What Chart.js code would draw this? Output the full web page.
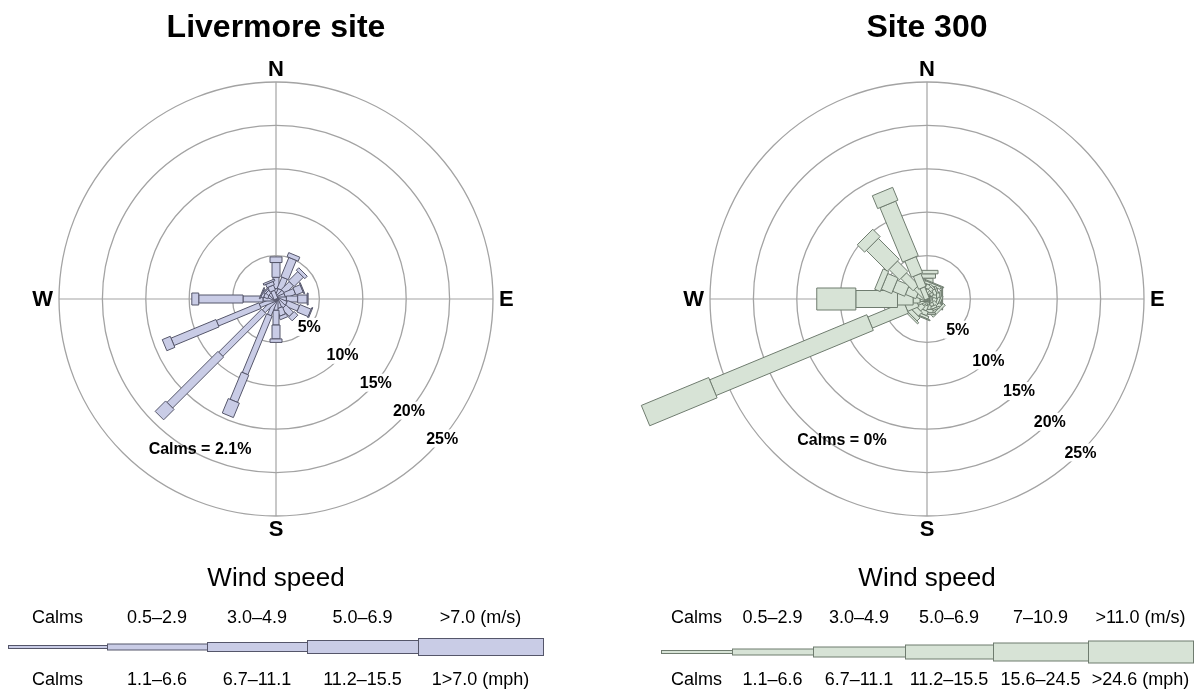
<!DOCTYPE html>
<html>
<head>
<meta charset="utf-8">
<script src="https://cdn.jsdelivr.net/npm/chart.js@4.4.1/dist/chart.umd.min.js"></script>
<style>
  html, body { margin: 0; padding: 0; background: #fff; }
  #wrap { position: relative; width: 1198px; height: 692px; overflow: hidden; }
  canvas { position: absolute; top: 0; }
  #livermore { left: 0; }
  #site300 { left: 599px; }
</style>
</head>
<body>
<div id="wrap">
  <canvas id="livermore" width="599" height="692"></canvas>
  <canvas id="site300" width="599" height="692"></canvas>
</div>
<script>
// Sixteen compass sectors, clockwise from north
const DIRECTIONS = ['N', 'NNE', 'NE', 'ENE', 'E', 'ESE', 'SE', 'SSE',
                    'S', 'SSW', 'SW', 'WSW', 'W', 'WNW', 'NW', 'NNW'];
const COMPASS = ['N', 'E', 'S', 'W'];
const RING_TICKS = [5, 10, 15, 20, 25];

// Livermore site: percent of hours per sector in each wind-speed class
const livermoreCalms = 2.1;
const livermore_0_5_2_9 = [1.2, 1.2, 1.2, 1.1, 1.2, 1.3, 1.3, 1.1, 1.3, 2.0, 2.0, 2.0, 1.5, 0.9, 0.9, 1.0];
const livermore_3_0_4_9 = [1.3, 1.4, 1.3, 1.2, 1.3, 1.5, 1.2, 0.9, 1.7, 7.3, 7.0, 5.3, 2.3, 0.5, 0.4, 0.6];
const livermore_5_0_6_9 = [1.7, 2.4, 1.5, 0.9, 1.1, 1.4, 0.6, 0.4, 1.6, 3.4, 8.3, 5.6, 5.1, 0.3, 0.2, 0.4];
const livermore_over_7  = [0.65, 0.5, 0.4, 0.1, 0.1, 0.1, 0.0, 0.0, 0.4, 1.8, 1.7, 1.0, 0.8, 0.1, 0.1, 0.2];
const livermoreMs  = ['Calms', '0.5–2.9', '3.0–4.9', '5.0–6.9', '>7.0 (m/s)'];
const livermoreMph = ['Calms', '1.1–6.6', '6.7–11.1', '11.2–15.5', '1>7.0 (mph)'];

// Site 300: percent of hours per sector in each wind-speed class
const site300Calms = 0;
const site300_0_5_2_9  = [0.8, 0.6, 0.5, 0.5, 0.6, 0.6, 0.7, 0.6, 0.7, 0.7, 0.8, 1.2, 0.8, 1.2, 1.8, 1.4];
const site300_3_0_4_9  = [0.8, 0.5, 0.4, 0.4, 0.5, 0.5, 0.6, 0.4, 0.5, 0.6, 0.7, 1.4, 0.8, 1.3, 2.0, 1.6];
const site300_5_0_6_9  = [0.8, 0.5, 0.4, 0.4, 0.4, 0.3, 0.4, 0.3, 0.4, 0.5, 0.6, 4.5, 1.8, 1.5, 1.7, 2.0];
const site300_7_10_9   = [0.5, 0.3, 0.2, 0.2, 0.2, 0.2, 0.3, 0.2, 0.2, 0.3, 0.5, 19.6, 4.8, 1.3, 3.4, 6.8];
const site300_over_11  = [0.4, 0.1, 0.0, 0.0, 0.1, 0.0, 0.0, 0.0, 0.0, 0.1, 0.2, 8.4, 4.5, 0.7, 1.2, 1.6];
const site300Ms  = ['Calms', '0.5–2.9', '3.0–4.9', '5.0–6.9', '7–10.9', '>11.0 (m/s)'];
const site300Mph = ['Calms', '1.1–6.6', '6.7–11.1', '11.2–15.5', '15.6–24.5', '>24.6 (mph)'];

const FONT = '"Liberation Sans", Arial, Helvetica, sans-serif';

const sites = [
  {
    canvas: 'livermore',
    title: 'Livermore site',
    calms: livermoreCalms,
    classes: [livermore_0_5_2_9, livermore_3_0_4_9, livermore_5_0_6_9, livermore_over_7],
    ms: livermoreMs, mph: livermoreMph,
    fill: '#c9cce6', stroke: '#55566a',
    barWidths: [4, 6, 8, 12],
    legendHeights: [3, 6, 9, 13, 17],
    legendEdges: [8, 107, 207, 307, 418, 543],
    legendY: 647,
    padding: { left: 59, right: 106, top: 8, bottom: 176 },
    tickBearing: 130,
    calmsOffset: { x: -76, y: 151 }
  },
  {
    canvas: 'site300',
    title: 'Site 300',
    calms: site300Calms,
    classes: [site300_0_5_2_9, site300_3_0_4_9, site300_5_0_6_9, site300_7_10_9, site300_over_11],
    ms: site300Ms, mph: site300Mph,
    fill: '#d7e3d6', stroke: '#6f7c6f',
    barWidths: [5, 8, 12, 17, 22],
    legendHeights: [3, 6, 10, 14, 18, 22],
    legendEdges: [62, 133, 214, 306, 394, 489, 594],
    legendY: 652,
    padding: { left: 111, right: 54, top: 8, bottom: 176 },
    tickBearing: 135,
    calmsOffset: { x: -85, y: 142 }
  }
];

// point at a compass bearing (radians, clockwise from north) and a pixel distance from the scale centre
function polar(scale, bearing, dist) {
  return {
    x: scale.xCenter + Math.sin(bearing) * dist,
    y: scale.yCenter - Math.cos(bearing) * dist
  };
}

function segment(ctx, scale, bearing, d0, d1, w) {
  const a = polar(scale, bearing, d0);
  const b = polar(scale, bearing, d1);
  const nx = Math.cos(bearing) * w / 2;
  const ny = Math.sin(bearing) * w / 2;
  ctx.beginPath();
  ctx.moveTo(a.x + nx, a.y + ny);
  ctx.lineTo(b.x + nx, b.y + ny);
  ctx.lineTo(b.x - nx, b.y - ny);
  ctx.lineTo(a.x - nx, a.y - ny);
  ctx.closePath();
  ctx.fill();
  ctx.stroke();
}

function rosePlugin(site) {
  return {
    id: 'windRose',
    afterDatasetsDraw(chart) {
      const scale = chart.scales.r;
      const ctx = chart.ctx;
      ctx.save();
      ctx.fillStyle = site.fill;
      ctx.strokeStyle = site.stroke;
      ctx.lineWidth = 1;
      DIRECTIONS.forEach((dir, i) => {
        const bearing = (i * 360 / DIRECTIONS.length) * Math.PI / 180;
        let cum = 0;
        site.classes.forEach((series, k) => {
          const v = series[i];
          if (v <= 0) { return; }
          const d0 = scale.getDistanceFromCenterForValue(cum);
          cum += v;
          const d1 = scale.getDistanceFromCenterForValue(cum);
          segment(ctx, scale, bearing, d0, d1, site.barWidths[k]);
        });
      });
      ctx.restore();
    },
    afterDraw(chart) {
      const scale = chart.scales.r;
      const ctx = chart.ctx;
      const R = scale.drawingArea;
      ctx.save();
      ctx.fillStyle = '#000';

      // compass letters
      ctx.font = 'bold 22px ' + FONT;
      ctx.textBaseline = 'middle';
      COMPASS.forEach((lab, i) => {
        const horizontal = (i % 2 === 1);
        const p = polar(scale, i * Math.PI / 2, R + (horizontal ? 6 : 13));
        ctx.textAlign = horizontal ? (i === 1 ? 'left' : 'right') : 'center';
        ctx.fillText(lab, p.x, p.y + 1);
      });

      // ring labels along the south-east diagonal
      ctx.font = 'bold 16px ' + FONT;
      ctx.textAlign = 'center';
      const tb = site.tickBearing * Math.PI / 180;
      RING_TICKS.forEach(t => {
        const p = polar(scale, tb, scale.getDistanceFromCenterForValue(t));
        const text = t + '%';
        const tw = ctx.measureText(text).width;
        ctx.fillStyle = '#fff';
        ctx.fillRect(p.x - tw / 2 - 2, p.y - 9, tw + 4, 18);
        ctx.fillStyle = '#000';
        ctx.fillText(text, p.x, p.y + 1);
      });

      // calms
      ctx.fillText('Calms = ' + site.calms + '%', scale.xCenter + site.calmsOffset.x, scale.yCenter + site.calmsOffset.y);

      // wind-speed key
      const e = site.legendEdges;
      ctx.font = '26px ' + FONT;
      ctx.fillText('Wind speed', scale.xCenter, 579);
      ctx.fillStyle = site.fill;
      ctx.strokeStyle = site.stroke;
      ctx.lineWidth = 1;
      site.legendHeights.forEach((h, k) => {
        ctx.fillRect(e[k], site.legendY - h / 2, e[k + 1] - e[k], h);
        ctx.strokeRect(e[k] + 0.5, site.legendY - h / 2, e[k + 1] - e[k], h);
      });
      ctx.fillStyle = '#000';
      ctx.font = '18px ' + FONT;
      site.ms.forEach((lab, k) => {
        ctx.fillText(lab, (e[k] + e[k + 1]) / 2, 618);
      });
      site.mph.forEach((lab, k) => {
        ctx.fillText(lab, (e[k] + e[k + 1]) / 2, 680);
      });
      ctx.restore();
    }
  };
}

sites.forEach(site => {
  new Chart(document.getElementById(site.canvas), {
    type: 'radar',
    data: { labels: COMPASS, datasets: [] },
    options: {
      responsive: false,
      animation: false,
      devicePixelRatio: 1,
      layout: { padding: site.padding },
      plugins: {
        legend: { display: false },
        tooltip: { enabled: false },
        title: {
          display: true,
          text: site.title,
          color: '#000',
          font: { family: FONT, size: 32, weight: 'bold', lineHeight: 1.25 },
          padding: { top: 0, bottom: 34 }
        }
      },
      scales: {
        r: {
          min: 0,
          max: 25,
          ticks: { display: false, stepSize: 5 },
          grid: { circular: true, color: '#a3a3a3', lineWidth: 1.3 },
          angleLines: { display: true, color: '#a3a3a3', lineWidth: 1.2 },
          pointLabels: { display: false }
        }
      }
    },
    plugins: [rosePlugin(site)]
  });
});
</script>
</body>
</html>
